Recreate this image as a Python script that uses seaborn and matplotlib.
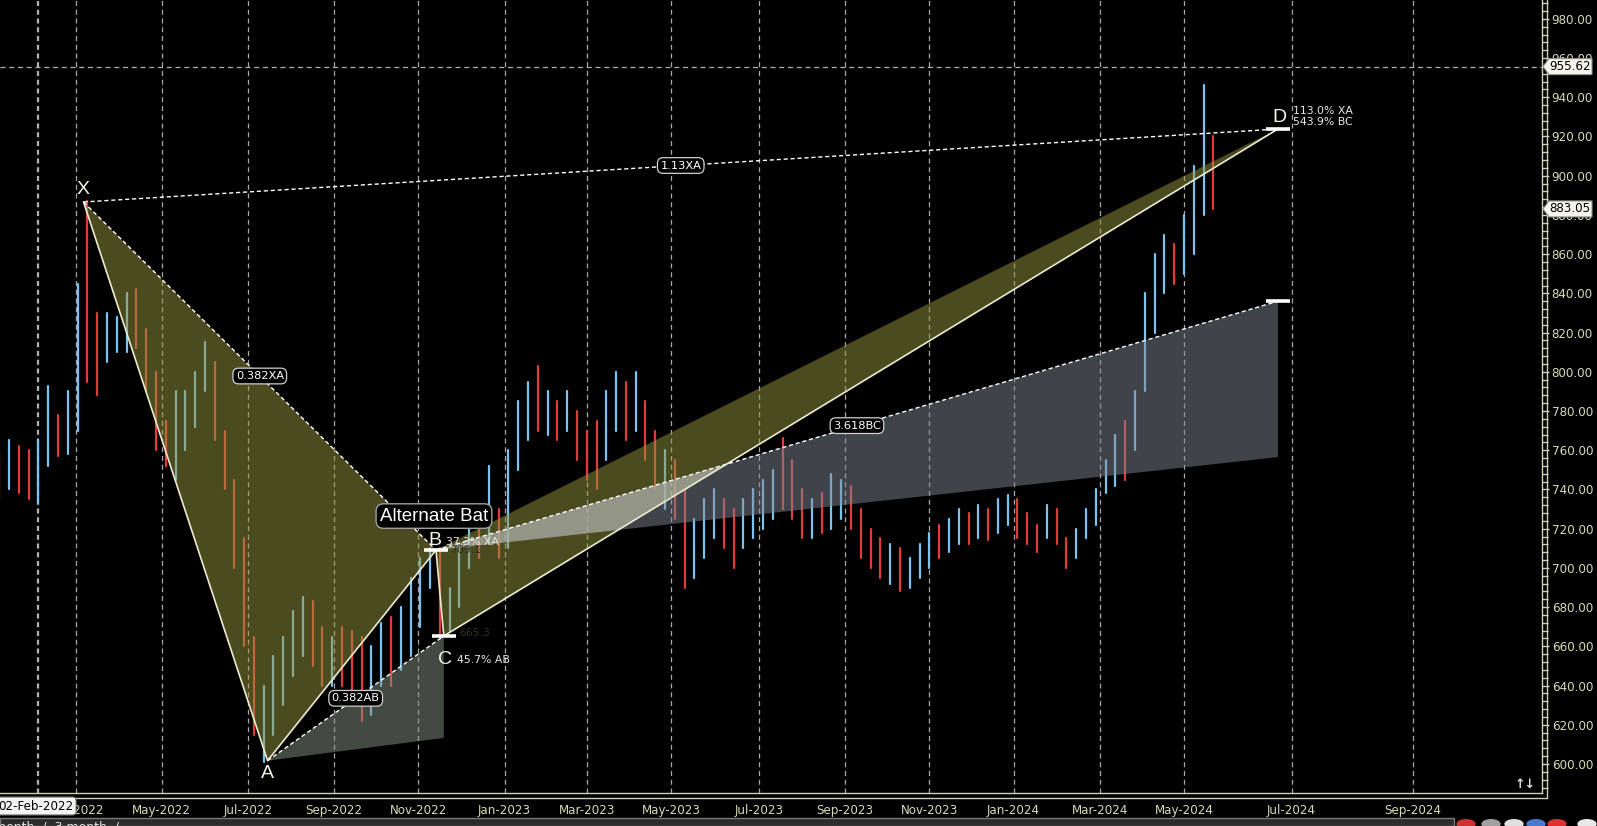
import numpy as np
import pandas as pd
import matplotlib
matplotlib.use("Agg")
import matplotlib.pyplot as plt
import matplotlib.transforms as mtrans
from matplotlib.patches import Polygon, Rectangle, Circle
from matplotlib.lines import Line2D
import seaborn as sns

W, H, DPI = 1597, 826, 100

# ---------------- data (weekly bars) ----------------
week_mid = pd.date_range("2022-01-05", periods=125, freq="7D")
week_high = [760, 765, 762, 760, 765, 793, 778, 790, 845, 887,
             830, 830, 828, 840, 842, 822, 800, 775, 790, 790,
             800, 815, 805, 770, 745, 715, 665, 640, 655, 665,
             678, 685, 683, 670, 665, 670, 668, 665, 660, 672,
             675, 680, 695, 705, 710, 710, 690, 710, 725, 730,
             752, 730, 760, 785, 795, 803, 790, 785, 790, 780,
             770, 775, 790, 800, 795, 800, 785, 770, 760, 755,
             740, 725, 735, 740, 735, 730, 735, 740, 745, 750,
             766, 755, 740, 735, 738, 748, 745, 742, 730, 720,
             715, 712, 710, 705, 712, 718, 722, 725, 730, 728,
             732, 730, 735, 737, 735, 728, 722, 732, 730, 715,
             720, 730, 740, 755, 768, 775, 790, 840, 860, 870,
             865, 880, 905, 946, 920]
week_low = [735, 740, 738, 735, 733, 752, 757, 758, 770, 795,
            788, 805, 810, 810, 812, 790, 760, 752, 745, 760,
            772, 790, 765, 740, 700, 660, 615, 601, 615, 630,
            645, 655, 650, 640, 640, 640, 635, 622, 625, 640,
            640, 648, 655, 670, 690, 665, 668, 680, 700, 705,
            712, 705, 710, 750, 765, 770, 768, 765, 770, 755,
            745, 740, 755, 770, 765, 770, 755, 740, 730, 725,
            690, 695, 705, 715, 710, 700, 710, 715, 720, 725,
            730, 725, 715, 715, 718, 720, 725, 720, 705, 700,
            695, 692, 688, 690, 695, 700, 705, 708, 712, 712,
            715, 714, 718, 722, 715, 712, 708, 715, 712, 700,
            705, 715, 722, 738, 742, 745, 760, 790, 820, 840,
            845, 850, 860, 880, 883]
week_dir = ("dudduuduud" "duuudddduu" "uuddddduuu" "uudduddduu" "duuuuduuud"
            "uduuududud" "dduududdud" "duuudduuuu" "ddduduuddd" "duduuuduud"
            "uduudddudd" "uuuuuduuuu" "duuud")

pat_names = ["X", "A", "B", "C", "D"]
pat_dates = ["2022-03-07", "2022-07-15", "2022-11-14", "2022-11-18", "2024-06-24"]
pat_prices = [886.6, 601.7, 709.1, 665.3, 923.8]
proj_top = 836.0      # 3.618 BC projection
proj_bot = 756.5
zoneA_low = 613.3
ratio_labels = ["0.382XA", "0.382AB", "1.13XA", "3.618BC"]
info_B = "37.3% XA"
info_C = "45.7% AB"
info_D = ["113.0% XA", "543.9% BC"]
pattern_title = "Alternate Bat"

month_ticks = pd.date_range("2022-03-01", "2024-09-01", freq="2MS")
y_major = np.arange(600, 981, 20)
y_minor = np.arange(588, 990, 4)
last_price = 883.05
cross_price = 955.62
cross_date = "2022-02-02"
base_date = "2022-03-01"
last_date = "2024-05-24"


def slot(d):
    d = np.datetime64(pd.Timestamp(d).date(), "D")
    b = np.datetime64(base_date, "D")
    l = np.datetime64(last_date, "D")
    if d <= l:
        return float(np.busday_count(b, d))
    return float(np.busday_count(b, l) + (d - l).astype(int))


# ---------------- figure ----------------
sns.set_theme(style="dark")
plt.rcParams["font.family"] = ["DejaVu Sans"]
fig = plt.figure(figsize=(W / DPI, H / DPI), dpi=DPI, facecolor="black")
ax = fig.add_axes([0, 33 / H, 1542 / W, 793 / H], facecolor="black")
px_per_slot = 1.958
ax.set_xlim(-75.7 / px_per_slot, (1542 - 75.7) / px_per_slot)
ax.set_ylim(600 - 29 / 1.961, 600 + 764 / 1.961)

# bars through seaborn
rows = []
for i, (d, hi, lo, dr) in enumerate(zip(week_mid, week_high, week_low, week_dir)):
    x = slot(d)
    rows.append((x, lo, i, dr))
    rows.append((x, hi, i, dr))
df = pd.DataFrame(rows, columns=["x", "price", "week", "dir"])
sns.lineplot(data=df, x="x", y="price", units="week", hue="dir", estimator=None,
             palette={"u": "#7cc2ee", "d": "#e23a3a"}, lw=1.6, legend=False,
             sort=False, ax=ax, zorder=2)

# grid / crosshair
tick_x = [slot(d) for d in month_ticks]
for tx in tick_x:
    ax.axvline(tx, color="#a8a8a8", lw=0.9, ls=(0, (4, 3)), zorder=1)
cx = slot(cross_date)
for off in (-1, 0):
    ax.axvline(cx + off, color="#b0b0b0", lw=0.9, ls=(0, (4, 3)), zorder=1)
ax.axhline(cross_price, color="#b0b0b0", lw=0.9, ls=(0, (4, 3)), zorder=1)

# pattern geometry
P = {n: (slot(d), p) for n, d, p in zip(pat_names, pat_dates, pat_prices)}
dx = P["D"][0]
ptop = (dx, proj_top)
pbot = (dx, proj_bot)
yellow = (150 / 255, 150 / 255, 64 / 255)
ax.add_patch(Polygon([P["X"], P["A"], P["B"]], closed=True, fc=yellow, alpha=0.5, lw=0, zorder=3))
ax.add_patch(Polygon([P["B"], P["C"], P["D"]], closed=True, fc=yellow, alpha=0.5, lw=0, zorder=3))
ax.add_patch(Polygon([P["B"], ptop, pbot], closed=True, fc=(128 / 255, 136 / 255, 148 / 255),
                     alpha=0.5, lw=0, zorder=3))
ax.add_patch(Polygon([P["A"], P["C"], (P["C"][0], zoneA_low)], closed=True,
                     fc=(132 / 255, 148 / 255, 132 / 255), alpha=0.5, lw=0, zorder=3))


def intersect(p1, p2, p3, p4):
    (x1, y1), (x2, y2), (x3, y3), (x4, y4) = p1, p2, p3, p4
    den = (x1 - x2) * (y3 - y4) - (y1 - y2) * (x3 - x4)
    t = ((x1 - x3) * (y3 - y4) - (y1 - y3) * (x3 - x4)) / den
    return (x1 + t * (x2 - x1), y1 + t * (y2 - y1))


q1 = intersect(P["B"], ptop, P["C"], P["D"])
q2 = intersect(P["B"], pbot, P["C"], P["D"])
ax.add_patch(Polygon([P["B"], q1, q2], closed=True, fc=(0.80, 0.80, 0.74), alpha=0.45, lw=0, zorder=3))

# pattern legs
legs = pd.DataFrame({"x": [P[n][0] for n in pat_names], "y": [P[n][1] for n in pat_names]})
sns.lineplot(data=legs, x="x", y="y", sort=False, estimator=None, color="#ecebcf", lw=1.2, ax=ax, zorder=5)
dashed_pairs = [(P["X"], P["B"]), (P["A"], P["C"]), (P["X"], P["D"]), (P["B"], ptop)]
for (a, b), lab in zip(dashed_pairs, ratio_labels):
    ax.plot([a[0], b[0]], [a[1], b[1]], color="white", lw=1.0, ls=(0, (3, 2)), zorder=5)
    ax.text((a[0] + b[0]) / 2, (a[1] + b[1]) / 2, lab, color="white", fontsize=8.2,
            ha="center", va="center", zorder=7,
            bbox=dict(boxstyle="round,pad=0.25,rounding_size=0.5", fc="black", ec="#d0d0d0", lw=0.9))

# markers
for (mx, my) in [P["B"], P["C"], P["D"], ptop]:
    ax.plot([mx - 6, mx + 6], [my, my], color="white", lw=2.6, solid_capstyle="butt", zorder=6)

# point labels
offs = {"X": (0, 12), "A": (0, -13), "B": (-1, 10), "C": (1, -24), "D": (2, 12)}
for n in pat_names:
    ax.annotate(n, P[n], xytext=offs[n], textcoords="offset pixels", color="#f4f4ea",
                fontsize=14, ha="center", va="center", zorder=8, family=["Liberation Sans", "DejaVu Sans"])
ax.annotate(pattern_title, P["B"], xytext=(-2, 34), textcoords="offset pixels", color="white",
            fontsize=13.5, ha="center", va="center", zorder=8, family=["Liberation Sans", "DejaVu Sans"],
            bbox=dict(boxstyle="round,pad=0.2,rounding_size=0.4", fc="black", ec="#a0a0a0", lw=1))
ax.annotate(info_B, P["B"], xytext=(10, 8), textcoords="offset pixels", color="#e8e8e0",
            fontsize=7.8, ha="left", va="center", zorder=8)
ax.annotate(f"{P['B'][1]:.1f}", P["B"], xytext=(14, 0), textcoords="offset pixels", color="#303020",
            fontsize=7.8, ha="left", va="center", zorder=8)
ax.annotate(f"{P['C'][1]:.1f}", P["C"], xytext=(15, 3), textcoords="offset pixels", color="#303020",
            fontsize=7.8, ha="left", va="center", zorder=8)
ax.annotate(info_C, P["C"], xytext=(13, -24), textcoords="offset pixels", color="#e8e8e0",
            fontsize=7.8, ha="left", va="center", zorder=8)
ax.annotate(info_D[0], P["D"], xytext=(15, 18), textcoords="offset pixels", color="#e8e8e0",
            fontsize=7.8, ha="left", va="center", zorder=8)
ax.annotate(info_D[1], P["D"], xytext=(15, 7), textcoords="offset pixels", color="#e8e8e0",
            fontsize=7.8, ha="left", va="center", zorder=8)

# axes styling
axis_col = "#cfcfb4"
lab_col = "#d9d9b8"
for s in ["top", "left"]:
    ax.spines[s].set_visible(False)
for s in ["right", "bottom"]:
    ax.spines[s].set_visible(True)
    ax.spines[s].set_color(axis_col)
    ax.spines[s].set_linewidth(1)
ax.yaxis.tick_right()
ax.set_yticks(y_major)
ax.set_yticks(y_minor, minor=True)
ax.set_yticklabels([f"{v:.2f}" for v in y_major])
ax.tick_params(axis="y", which="major", colors=axis_col, labelcolor=lab_col, length=5, width=1,
               labelsize=8.6, pad=2, direction="out")
ax.tick_params(axis="y", which="minor", colors=axis_col, length=4, width=1, direction="out")
ax.set_xticks(tick_x)
ax.set_xticklabels([d.strftime("%b-%Y") for d in month_ticks])
ax.tick_params(axis="x", colors=axis_col, labelcolor=lab_col, length=5, width=1,
               labelsize=8.6, pad=3, direction="out")
ax.grid(False)
ax.set_xlabel("")
ax.set_ylabel("")

# outer frame lines
fig.add_artist(Line2D([1547 / W, 1547 / W], [1 - 798 / H, 1], color=axis_col, lw=1))
fig.add_artist(Line2D([0, 1547 / W], [1 - 798 / H, 1 - 798 / H], color=axis_col, lw=1))

# price flags on right axis
bt = mtrans.blended_transform_factory(fig.transFigure, ax.transData)
for v in (cross_price, last_price):
    hh = 8 / 1.961
    poly = Polygon([(1543 / W, v), (1549 / W, v + hh), (1592 / W, v + hh), (1592 / W, v - hh),
                    (1549 / W, v - hh)], closed=True, transform=bt, fc="#f4f4ea", ec="#909090",
                   lw=0.8, zorder=10, clip_on=False)
    fig.add_artist(poly)
    fig.text(1570 / W, 0, f"{v:.2f}", transform=bt, color="black", fontsize=8.6,
             ha="center", va="center", zorder=11).set_y(v)

# crosshair date flag
fig.text(36 / W, 1 - 806 / H, pd.Timestamp(cross_date).strftime("%d-%b-%Y"), color="black",
         fontsize=8.6, ha="center", va="center", zorder=12,
         bbox=dict(boxstyle="round,pad=0.2,rounding_size=0.3", fc="#f4f4f4", ec="#888888", lw=0.8))

# scroll arrows
fig.text(1525 / W, 1 - 784 / H, "\u2191\u2193", color="#e0e0e0", fontsize=9, weight="bold",
         ha="center", va="center")

# bottom toolbar strip
fig.add_artist(Rectangle((0, 0), 1454 / W, 8 / H, transform=fig.transFigure, fc="#2c2c2c",
                         ec="#7a7a7a", lw=1))
fig.text(-6 / W, 1 - 820 / H, "month  /  3 month  /", color="#e0e0e0", fontsize=9, ha="left", va="top")
# toolbar icons (top parts visible)
icon_specs = [(1466, "#d03030"), (1491, "#a0a0a0"), (1514, "#e0e0e0"), (1536, "#4a7ad0"),
              (1557, "#e03030"), (1587, "#e8e8e8")]
for ix, col in icon_specs:
    fig.add_artist(Circle((ix / W, 2 / H), 5 / H, transform=fig.transFigure, fc=col, ec="none"))

fig.savefig("out.png", dpi=DPI, facecolor="black")
